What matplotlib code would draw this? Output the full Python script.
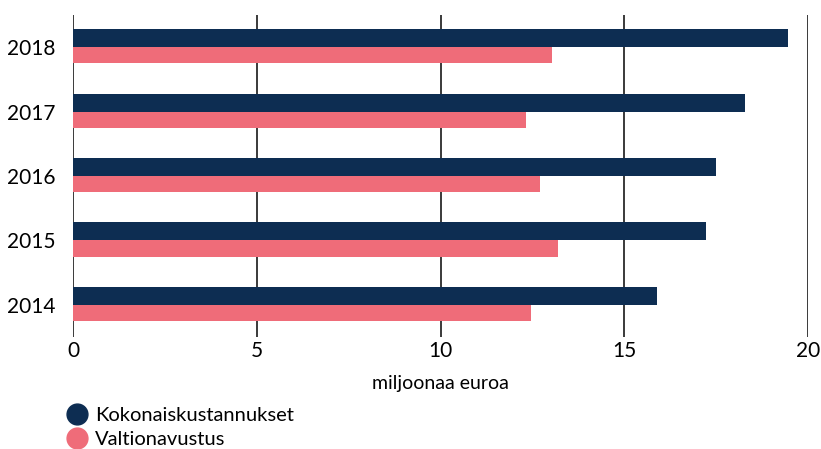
import numpy as np
import matplotlib
matplotlib.use("Agg")
import matplotlib.pyplot as plt
from matplotlib.lines import Line2D

plt.rcParams["font.family"] = ["Lato", "DejaVu Sans"]

# kustannukset vuosittain, miljoonaa euroa
vuodet = ["2014", "2015", "2016", "2017", "2018"]
kokonais = [15.88, 17.22, 17.51, 18.28, 19.45]
valtionavustus = [12.46, 13.19, 12.70, 12.32, 13.03]

NAVY = "#0d2d52"
PINK = "#ef6c79"

fig = plt.figure(figsize=(8.21, 4.49), dpi=100)
ax = fig.add_axes([73 / 821, 1 - 337 / 449, (808 - 73) / 821, (337 - 15) / 449])

y = np.arange(len(vuodet))
ax.barh(y + 0.14, kokonais, height=0.28, color=NAVY, zorder=3)
ax.barh(y - 0.125, valtionavustus, height=0.25, color=PINK, zorder=3)

ax.set_xlim(0, 20)
ax.set_ylim(-0.5, 4.5)
ax.set_xticks([0, 5, 10, 15, 20])
ax.set_yticks(y)
ax.set_yticklabels(vuodet)
ax.tick_params(axis="both", length=0, labelsize=15, colors="black")
ax.tick_params(axis="y", pad=12.5)
ax.tick_params(axis="x", pad=3)
ax.grid(axis="x", color="#3a3a3a", linewidth=1.4, zorder=0)
for s in ax.spines.values():
    s.set_visible(False)

ax.set_xlabel("miljoonaa euroa", fontsize=14, labelpad=10)

handles = [
    Line2D([], [], marker="o", linestyle="", markersize=15, color=NAVY),
    Line2D([], [], marker="o", linestyle="", markersize=15, color=PINK),
]
fig.legend(handles, ["Kokonaiskustannukset", "Valtionavustus"],
           loc="upper left", bbox_to_anchor=(57 / 821, 1 - 397 / 449),
           frameon=False, fontsize=14.5, handletextpad=0.4,
           labelspacing=0.35, borderpad=0, handlelength=1.0)

fig.savefig("out.png", dpi=100)
